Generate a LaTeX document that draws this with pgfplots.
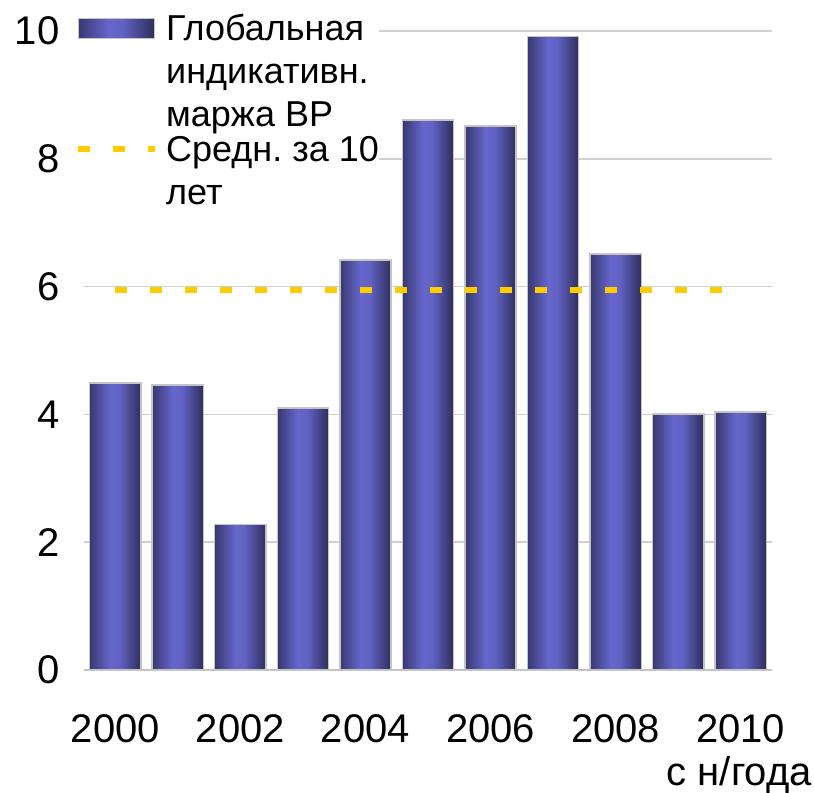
\documentclass[border=0pt]{standalone}
\usepackage{pgfplots}
\pgfplotsset{compat=1.18}
\usepackage{fontspec}
\setmainfont{Liberation Sans}
\frenchspacing
\definecolor{bardarkL}{HTML}{383870}
\definecolor{barlight}{HTML}{6666CC}
\definecolor{barlight2}{HTML}{6262C4}
\definecolor{bardarkR}{HTML}{2E2E5C}
\definecolor{avgyellow}{HTML}{FFCC00}
\definecolor{gridgray}{HTML}{D0D0D0}
\definecolor{bordergray}{HTML}{C4C4C4}
\pgfdeclarehorizontalshading{barshade}{100bp}{color(0bp)=(bardarkL); color(25bp)=(bardarkL); color(45bp)=(barlight); color(54bp)=(barlight2); color(75bp)=(bardarkR); color(100bp)=(bardarkR)}
\pgfplotsset{mybar/.style={ybar, bar width=0.82, shading=barshade, draw=bordergray, line width=1.5pt}}
\begin{document}
\begin{tikzpicture}
\begin{axis}[
  scale only axis,
  width=688pt, height=639pt,
  xmin=1999.5, xmax=2010.5,
  ymin=0, ymax=10,
  xtick={2000,2002,...,2010},
  ytick={0,2,...,10},
  major tick length=0pt,
  ymajorgrids,
  major grid style={gridgray, line width=1.5pt},
  axis x line*=bottom,
  axis y line*=left,
  x axis line style={bordergray, line width=2pt, -},
  y axis line style={draw=none},
  /pgf/number format/1000 sep={},
  /pgf/number format/assume math mode=true,
  ticklabel style={font=\fontsize{40}{46}\selectfont},
  xticklabel style={yshift=-41pt},
  yticklabel style={xshift=-21pt},
  xlabel={с н/года},
  x label style={at={(rel axis cs:1,0)}, anchor=base east, inner sep=0pt, xshift=40pt, yshift=-115pt, font=\fontsize{40}{46}\selectfont},
  legend cell align=left,
  legend style={at={(axis description cs:0,1)}, anchor=north west, xshift=-9pt, yshift=17pt,
    draw=none, fill=white, inner sep=0pt, row sep=8pt, column sep=8pt,
    nodes={inner sep=0pt, align=left, font=\fontsize{36}{43}\selectfont}},
]
\addplot[mybar,
  legend image code/.code={\draw[shading=barshade, draw=bordergray, line width=1pt] (0pt,33pt) rectangle (76pt,53pt);}]
  coordinates {(2000,4.49)};
\addlegendentry{Глобальная\\индикативн.\\маржа BP}
\addplot[avgyellow, line width=6pt, dash pattern=on 12pt off 23pt,
  legend image code/.code={\draw[avgyellow, line width=6pt, dash pattern=on 12pt off 23pt] (0pt,22pt) -- (77pt,22pt);}]
  coordinates {(2000,5.95) (2010,5.95)};
\addlegendentry{Средн. за 10\\лет}
\addplot[mybar, forget plot] coordinates {(2001,4.46)};
\addplot[mybar, forget plot] coordinates {(2002,2.28)};
\addplot[mybar, forget plot] coordinates {(2003,4.10)};
\addplot[mybar, forget plot] coordinates {(2004,6.42)};
\addplot[mybar, forget plot] coordinates {(2005,8.61)};
\addplot[mybar, forget plot] coordinates {(2006,8.51)};
\addplot[mybar, forget plot] coordinates {(2007,9.91)};
\addplot[mybar, forget plot] coordinates {(2008,6.51)};
\addplot[mybar, forget plot] coordinates {(2009,4.01)};
\addplot[mybar, forget plot] coordinates {(2010,4.04)};
\addplot[avgyellow, line width=6pt, dash pattern=on 12pt off 23pt, forget plot]
  coordinates {(2000,5.95) (2010,5.95)};
\end{axis}
\path[use as bounding box] ([shift={(-84pt,-120pt)}]current axis.south west) rectangle ([shift={(42pt,31pt)}]current axis.north east);
\end{tikzpicture}
\end{document}
